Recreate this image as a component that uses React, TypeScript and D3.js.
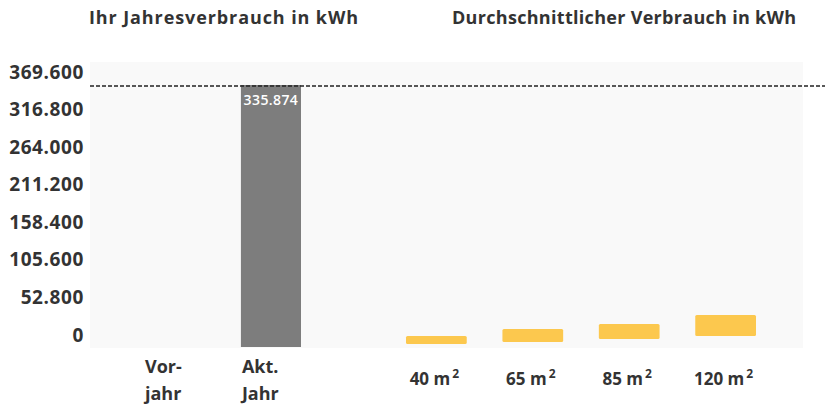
import { useEffect, useRef } from "react";
import * as d3 from "d3";

const yearKeys = ["Vorjahr", "Akt. Jahr"];
const yearLabels = [
  ["Vor-", "jahr"],
  ["Akt.", "Jahr"],
];
const yearValues = [0, 335874];

const sizeLabels = ["40", "65", "85", "120"];
// average consumption shown as a floating band (low / high, kWh)
const avgLow = [3800, 6400, 10300, 14100];
const avgHigh = [14100, 23100, 29500, 41000];

const yTicks = [0, 52800, 105600, 158400, 211200, 264000, 316800, 369600];

const titleLeft = "Ihr Jahresverbrauch in kWh";
const titleRight = "Durchschnittlicher Verbrauch in kWh";

const App = () => {
  const ref = useRef<HTMLDivElement>(null);

  useEffect(() => {
    const width = 825;
    const height = 408;
    const font = "'Open Sans', sans-serif";
    const textColor = "#333";

    const de = d3.formatLocale({
      decimal: ",",
      thousands: ".",
      grouping: [3],
      currency: ["", " €"],
    });
    const fmt = de.format(",");

    // tick label positions
    const yAxis = d3.scaleLinear([0, 369600], [335, 72]);
    // bar positions
    const yBar = d3.scaleLinear([0, d3.max(yearValues) as number], [347, 85]);

    const xYear = d3
      .scaleBand<string>()
      .domain(yearKeys)
      .range([144, 301])
      .paddingInner(0.38);

    const xSize = d3
      .scaleBand<string>()
      .domain(sizeLabels)
      .range([406, 756])
      .paddingInner(0.37);

    const svg = d3
      .create("svg")
      .attr("width", width)
      .attr("height", height)
      .attr("viewBox", [0, 0, width, height])
      .attr("style", "position:absolute;left:0;top:0;background:#fff")
      .attr("font-family", font);

    // faint plot background
    svg
      .append("rect")
      .attr("x", 90)
      .attr("y", 62)
      .attr("width", 713)
      .attr("height", 286)
      .attr("fill", "#f9f9f9");

    // titles
    svg
      .append("text")
      .attr("x", 89)
      .attr("y", 24)
      .attr("font-size", 18)
      .attr("font-weight", 700)
      .attr("letter-spacing", 0.9)
      .attr("fill", textColor)
      .text(titleLeft);

    svg
      .append("text")
      .attr("x", 452)
      .attr("y", 24)
      .attr("font-size", 18)
      .attr("font-weight", 700)
      .attr("letter-spacing", 0.3)
      .attr("fill", textColor)
      .text(titleRight);

    // y axis labels
    svg
      .append("g")
      .attr("transform", "translate(84,0)")
      .call(
        d3
          .axisLeft(yAxis)
          .tickValues(yTicks)
          .tickFormat((d) => fmt(d as number))
          .tickSize(0)
          .tickPadding(0)
      )
      .call((g) => g.select(".domain").remove())
      .call((g) =>
        g
          .selectAll("text")
          .attr("font-family", font)
          .attr("font-size", 19)
          .attr("font-weight", 700)
          .attr("letter-spacing", 0.6)
          .attr("fill", textColor)
      );

    // yearly bars
    svg
      .append("g")
      .selectAll("rect")
      .data(yearValues)
      .join("rect")
      .attr("x", (_, i) => xYear(yearKeys[i]) as number)
      .attr("y", (d) => yBar(d))
      .attr("width", xYear.bandwidth())
      .attr("height", (d) => yBar(0) - yBar(d))
      .attr("fill", "#7d7d7d");

    // value label inside the current year bar
    svg
      .append("text")
      .attr("x", (xYear(yearKeys[1]) as number) + xYear.bandwidth() / 2)
      .attr("y", yBar(yearValues[1]) + 20)
      .attr("text-anchor", "middle")
      .attr("font-size", 14)
      .attr("font-weight", 600)
      .attr("letter-spacing", 0.4)
      .attr("fill", "#fff")
      .text(fmt(yearValues[1]));

    // reference dashed line
    svg
      .append("line")
      .attr("x1", 90)
      .attr("x2", width)
      .attr("y1", yBar(yearValues[1]) + 1)
      .attr("y2", yBar(yearValues[1]) + 1)
      .attr("stroke", "#222")
      .attr("stroke-width", 1.5)
      .attr("stroke-dasharray", "4,2");

    // average bands
    svg
      .append("g")
      .selectAll("rect")
      .data(sizeLabels)
      .join("rect")
      .attr("x", (d) => xSize(d) as number)
      .attr("y", (_, i) => yBar(avgHigh[i]))
      .attr("width", xSize.bandwidth())
      .attr("height", (_, i) => yBar(avgLow[i]) - yBar(avgHigh[i]))
      .attr("rx", 1.5)
      .attr("fill", "#fcc84e");

    // year labels
    const yl = svg
      .append("g")
      .selectAll("text")
      .data(yearLabels)
      .join("text")
      .attr("x", (_, i) => (xYear(yearKeys[i]) as number) + 1)
      .attr("y", 373)
      .attr("font-size", 18)
      .attr("font-weight", 700)
      .attr("fill", textColor);
    yl.selectAll("tspan")
      .data((d) => d)
      .join("tspan")
      .attr("x", function () {
        return (this.parentNode as SVGTextElement).getAttribute("x");
      })
      .attr("dy", (_, i) => (i === 0 ? 0 : 27))
      .text((d) => d);

    // size labels with superscript 2
    const sl = svg
      .append("g")
      .selectAll("text")
      .data(sizeLabels)
      .join("text")
      .attr("x", (d) => (xSize(d) as number) + xSize.bandwidth() / 2 - 2)
      .attr("y", 385)
      .attr("text-anchor", "middle")
      .attr("font-size", 17)
      .attr("font-weight", 700)
      .attr("fill", textColor);
    sl.append("tspan").text((d) => `${d} m`);
    sl.append("tspan")
      .attr("dy", -7)
      .attr("dx", 2)
      .attr("font-size", 12)
      .text("2");

    if (ref.current) {
      ref.current.innerHTML = "";
      ref.current.appendChild(svg.node() as SVGSVGElement);
    }
  }, []);

  return <div ref={ref}></div>;
};

export default App;
